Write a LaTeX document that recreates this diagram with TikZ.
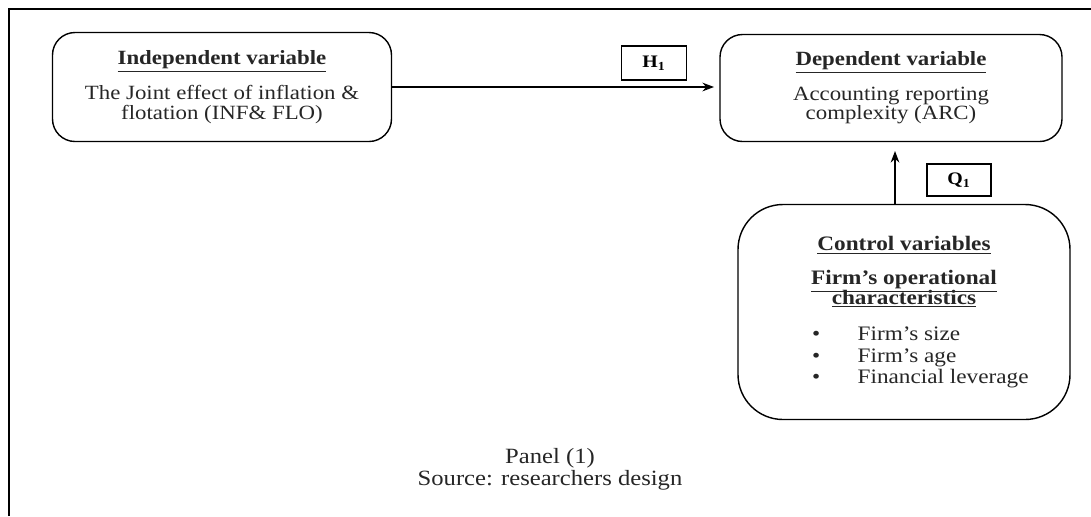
\documentclass[tikz,border=0pt]{standalone}
\usepackage{fontspec}
\setmainfont[FakeStretch=1.13]{Liberation Serif}
\usetikzlibrary{arrows.meta}
\newcommand{\tightlines}{\lineskiplimit=-20pt\relax}
\newcommand{\bulletline}[1]{\makebox[3.68cm][l]{\textbullet\hspace{0.75cm}#1}}
\tikzset{
  varbox/.style={draw,thick,rounded corners=0.45cm,align=center,text=black!85,
    font=\fontsize{11.5}{11.2}\selectfont\tightlines},
  labbox/.style={draw,thick,minimum width=1.3cm,minimum height=0.68cm,font=\fontsize{10}{12}\selectfont\bfseries}
}
\newcommand{\head}[1]{\underline{\textbf{#1}}}
\begin{document}
\begin{tikzpicture}
\useasboundingbox (0,0) rectangle (21.82,-10.32);
\draw[thick](0.18,-10.32)--(0.18,-0.18)--(21.82,-0.18);
\node[varbox,minimum width=6.78cm,minimum height=2.18cm](indep)at(4.44,-1.74)
  {\head{Independent variable}\\[8.5pt]The Joint effect of inflation \&\\flotation (INF\& FLO)};
\node[varbox,minimum width=6.84cm,minimum height=2.14cm](dep)at(17.82,-1.76)
  {\head{Dependent variable}\\[8.5pt]Accounting reporting\\complexity (ARC)};
\node[varbox,rounded corners=0.9cm,minimum width=6.64cm,minimum height=4.3cm,
  font=\fontsize{11.7}{11}\selectfont\tightlines](ctrl)at(18.08,-6.24)
  {\head{Control variables}\\[8.3pt]\head{Firm's operational}\\\head{characteristics}\\[10pt]
   \bulletline{Firm's size}\\[1pt]
   \bulletline{Firm's age}\\[1pt]
   \bulletline{Financial leverage}};
\node[labbox](hyp)at(13.08,-1.26){H\textsubscript{1}};
\node[labbox,minimum width=1.28cm,minimum height=0.64cm](que)at(19.18,-3.6){Q\textsubscript{1}};
\draw[thick,-Stealth,shorten >=3pt](indep.east)--(indep.east-|dep.west);
\coordinate(qbot)at([xshift=-0.18cm]ctrl.north);
\draw[thick,-Stealth,shorten >=5pt](qbot)--(qbot|-dep.south);
\node[text=black!85,align=center,font=\fontsize{12.4}{12.5}\selectfont](src)at(11.0,-9.38)
  {Panel (1)\\Source: researchers design};
\end{tikzpicture}
\end{document}
